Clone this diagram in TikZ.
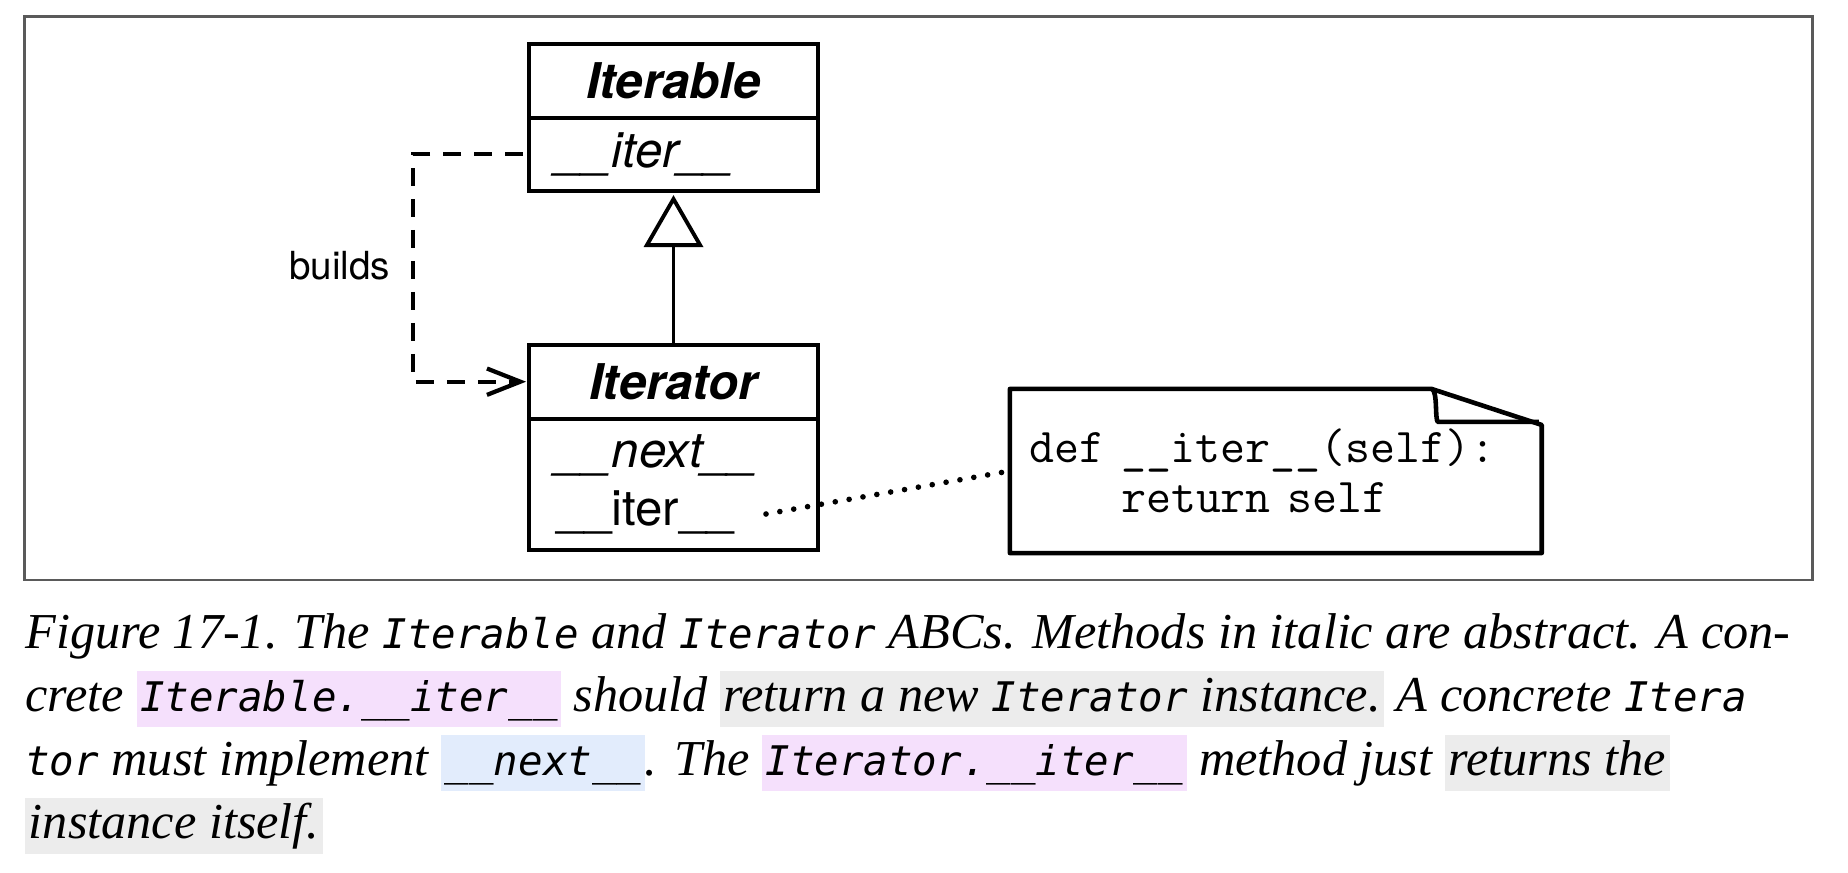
\documentclass[tikz,border=0pt]{standalone}
\usepackage{fontspec}
\setmainfont{TeX Gyre Heros}
\newfontfamily\capfont{Liberation Serif}
\newfontfamily\codefont{DejaVu Sans Mono}
\definecolor{hlpink}{HTML}{F5E0FC}
\definecolor{hlgray}{HTML}{ECECEC}
\definecolor{hlblue}{HTML}{E2ECFC}
\definecolor{framegray}{HTML}{5A5A5A}
\usetikzlibrary{arrows.meta, positioning, calc}

\newcommand{\cd}[1]{{\codefont\fontsize{11.6}{14}\selectfont #1}}
\newcommand{\hl}[2]{{\setlength{\fboxsep}{1pt}\colorbox{#1}{\rule[-3.5pt]{0pt}{14pt}#2}}}

\begin{document}
\begin{tikzpicture}[x=0.01cm, y=-0.01cm,
    classhead/.style={draw, line width=1.2pt, outer sep=0pt, minimum width=2.89cm,
      minimum height=0.74cm, font=\fontsize{14}{16}\selectfont\bfseries\itshape},
    classbody/.style={draw, line width=1.2pt, outer sep=0pt, minimum height=0.73cm,
      text width=2.33cm, inner xsep=0.28cm, align=left, font=\fontsize{14}{16.5}\selectfont},
    notebox/.style={minimum width=5.316cm, minimum height=1.64cm, text width=4.916cm,
      inner xsep=0.2cm, align=left, outer sep=0pt, font=\ttfamily\fontsize{13.8}{14.2}\selectfont},
    notestroke/.style={line width=1.3pt, line join=round},
    builds/.style={line width=1.2pt, dash pattern=on 5.2pt off 3.6pt,
      -{Straight Barb[length=9.5pt, width=7.5pt]}, shorten <=1.7pt, shorten >=0.8pt},
    inherit/.style={line width=1.1pt, -{Triangle[open, length=0.52cm, width=0.59cm]}, shorten >=1.2pt},
    dotline/.style={line width=1.6pt, line cap=round, dash pattern=on 0pt off 4pt},
    caption/.style={inner sep=0pt, anchor=base west, font=\capfont\itshape\fontsize{14.3}{17}\selectfont}]
  \useasboundingbox (0,0) rectangle (1848,873);
  \draw[framegray, line width=0.7pt] (24.7,16.5) rectangle (1812.7,580);

  % the two ABCs
  \node[classhead] (itbl) at (673.5,80.8) {Iterable};
  \node[classbody, below=0pt of itbl] (itblm) {\textit{\_\_iter\_\_}};
  \node[classhead] (itr) at (673.5,381.7) {Iterator};
  \node[classbody, below=0pt of itr, minimum height=1.31cm] (itrm) {\textit{\_\_next\_\_}\\\_\_iter\_\_};
  \coordinate (iterend) at (766,514);

  % note
  \node[notebox] (note) at (1275.8,471) {def \_\_iter\_\_(self):\\\phantom{def\ }return self};
  \draw[notestroke] (note.south west) -- (note.north west)
    -- ($(note.north east)+(-110,0)$) -- ($(note.north east)+(0,36)$) -- (note.south east) -- cycle;
  \draw[notestroke] ($(note.north east)+(-110,0)$) .. controls ($(note.north east)+(-104,2)$)
    and ($(note.north east)+(-107,30)$) .. ($(note.north east)+(-104,33)$) -- ($(note.north east)+(-3,33)$);

  % connectors
  \draw[inherit] (itr.north) -- (itblm.south);
  \draw[builds] (itblm.west) -- ++(-116,0) |- node[pos=0.245, left=2.5pt, font=\fontsize{11}{13}\selectfont] (lbl) {builds} (itr.west);
  \draw[dotline] (iterend) -- (note.west);

  % caption
  \foreach \row/\txt in {%
    0/{Figure 17-1. The \cd{Iterable} and \cd{Iterator} ABCs. Methods in italic are abstract. A con-},
    1/{crete \hl{hlpink}{\cd{Iterable.\_\_iter\_\_}} should \hl{hlgray}{return a new \cd{Iterator} instance.} A concrete \cd{Itera}},
    2/{\cd{tor} must implement \hl{hlblue}{\cd{\_\_next\_\_}}. The \hl{hlpink}{\cd{Iterator.\_\_iter\_\_}} method just \hl{hlgray}{returns the}},
    3/{\hl{hlgray}{instance itself.}}}{%
    \node[caption] (cap\row) at (24.7, 648+63.5*\row) {\txt};
  }
\end{tikzpicture}
\end{document}
